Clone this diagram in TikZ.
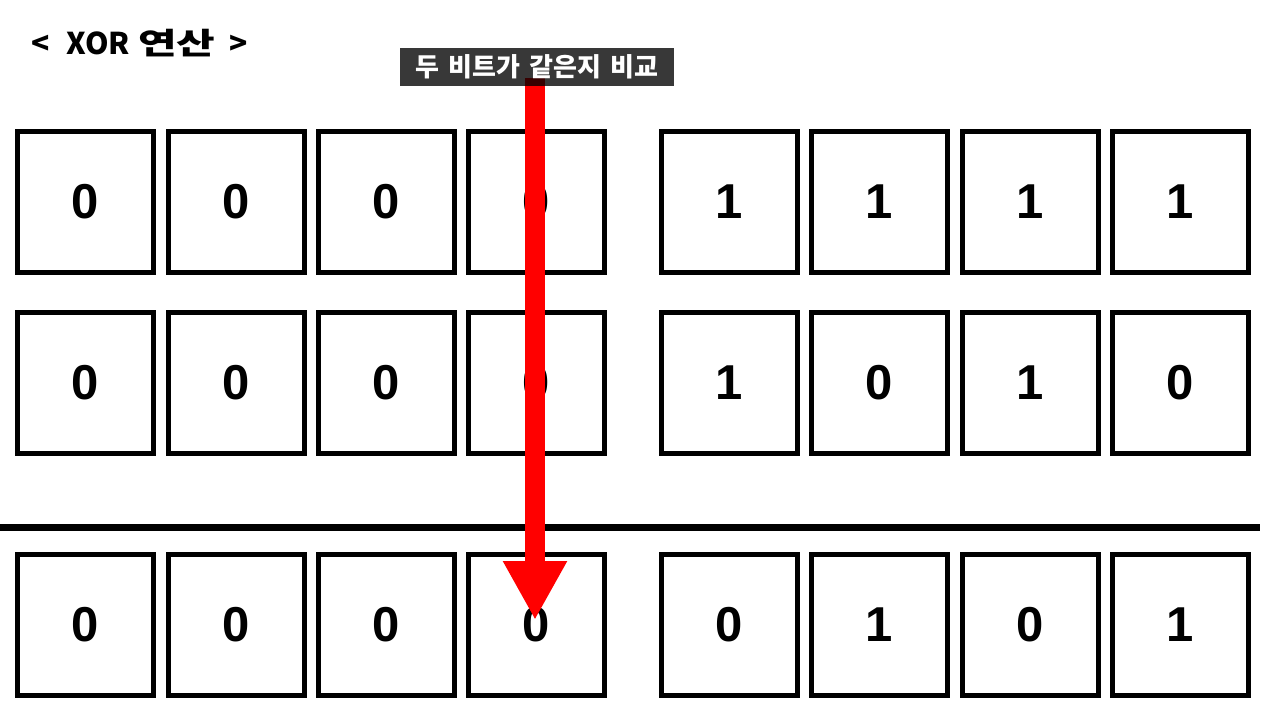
\documentclass[tikz,border=0pt]{standalone}
\usepackage{fontspec}
\usepackage{graphicx}
\setmainfont{Liberation Sans}
\newfontfamily\kr{Noto Sans CJK KR}
\usetikzlibrary{arrows.meta}
\tikzset{
  bit/.style={draw=black, line width=5pt, minimum width=136pt, minimum height=141pt, inner sep=0pt,
    font=\fontsize{49}{49}\selectfont\bfseries},
  title/.style={inner sep=0pt, font=\kr\bfseries\fontsize{30}{30}\selectfont},
  tag/.style={fill=black, fill opacity=0.78, text opacity=1, text=white, inner sep=0pt,
    minimum width=274pt, minimum height=38pt, font=\kr\bfseries\fontsize{26}{26}\selectfont},
  bigarrow/.style={draw=red, line width=20pt, -{Triangle[width=60pt,length=59pt]}},
  rule/.style={line width=6.5pt}
}
\begin{document}
\begin{tikzpicture}[x=1pt,y=-1pt]
\useasboundingbox (0,0) rectangle (1276,709);
\node[title, anchor=west] (title) at (31,43) {<\hspace{17pt}XOR\hspace{8pt}\scalebox{1.4}[1]{연산}\hspace{14pt}>};
\def\xs{{85.5,236,386.5,536.5,729,879.5,1030,1180.5}}
\foreach \r/\y/\bits in {1/201.5/{0,0,0,0,1,1,1,1}, 2/383/{0,0,0,0,1,0,1,0}, 3/625/{0,0,0,0,0,1,0,1}}{
  \foreach \b [count=\c] in \bits {
    \pgfmathsetmacro\xx{\xs[\c-1]}
    \node[bit] (b\r\c) at (\xx,\y) {\b};
  }
}
\coordinate (l0) at (0,527.5);
\coordinate (l1) at (1260,527.5);
\draw[rule] (l0) -- (l1);
\coordinate (as) at (535,78);
\coordinate (ae) at (535,620);
\draw[bigarrow] (as) -- (ae);
\node[tag] (tag) at (537,67) {두\hspace{3pt} 비트가\hspace{3pt} 같은지\hspace{3pt} 비교};
\end{tikzpicture}
\end{document}
